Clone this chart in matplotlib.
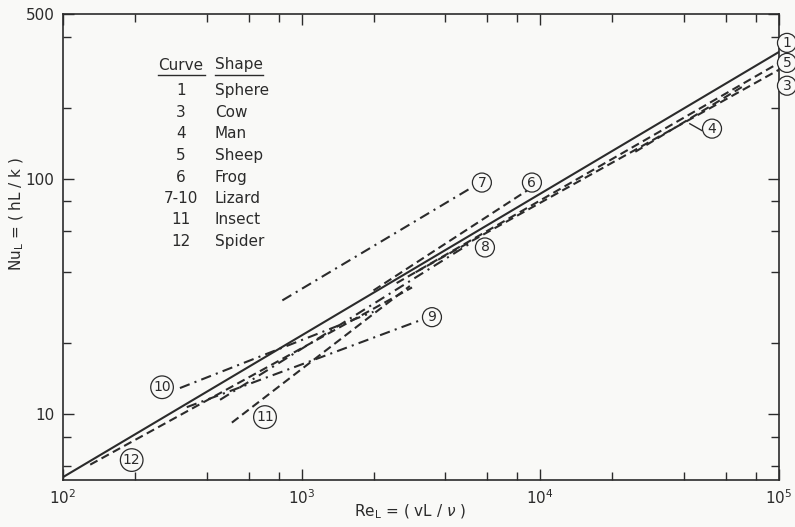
import numpy as np
import matplotlib.pyplot as plt

plt.rcParams['font.family'] = ['DejaVu Sans']

# curve end points (Re, Nu)
re_sphere = [100, 1e5];      nu_sphere = [5.4, 345]
re_cow = [3000, 1e5];        nu_cow = [40, 290]
re_man = [2.5e4, 7e4];       nu_man = [130, 245]
re_sheep = [2500, 1e5];      nu_sheep = [36, 310]
re_frog = [2000, 8800];      nu_frog = [33.5, 89]
re_liz7 = [830, 5070];       nu_liz7 = [30.4, 90.7]
re_liz8 = [455, 5070];       nu_liz8 = [11.5, 53]
re_liz9 = [330, 3130];       nu_liz9 = [10.7, 25]
re_liz10 = [309, 2000];      nu_liz10 = [12.9, 27.2]
re_insect = [510, 2840];     nu_insect = [9.2, 35]
re_spider = [130, 2900];     nu_spider = [6.1, 34.5]

# circled curve numbers (label, Re, Nu)
tag_names = ['1', '5', '3', '4', '6', '7', '8', '9', '10', '11', '12']
tag_re = [1.08e5, 1.08e5, 1.08e5, 5.24e4, 9220, 5690, 5860, 3515, 260, 702, 194]
tag_nu = [377, 310, 248, 163, 96.2, 96.2, 51.0, 25.8, 13.0, 9.71, 6.38]

table_curve = ['1', '3', '4', '5', '6', '7-10', '11', '12']
table_shape = ['Sphere', 'Cow', 'Man', 'Sheep', 'Frog', 'Lizard', 'Insect', 'Spider']

ink = '#2b2b2b'
dashed = (0, (4, 2.2))
dashdot = (0, (5, 2.5, 1, 2.5))

fig = plt.figure(figsize=(7.95, 5.27), dpi=100, facecolor='#f9f9f7')
ax = fig.add_axes([63/795, 1-480/527, (779-63)/795, (480-14)/527])
ax.set_facecolor('#f9f9f7')
ax.set_xscale('log')
ax.set_yscale('log')
ax.set_xlim(1e2, 1e5)
ax.set_ylim(5.25, 500)

lw = 1.5
ax.plot(re_sphere, nu_sphere, color=ink, lw=lw)
ax.plot(re_cow, nu_cow, color=ink, lw=lw, ls=dashed)
ax.plot(re_man, nu_man, color=ink, lw=lw, ls=dashed)
ax.plot(re_sheep, nu_sheep, color=ink, lw=lw, ls=dashed)
ax.plot(re_frog, nu_frog, color=ink, lw=lw, ls=dashed)
ax.plot(re_liz7, nu_liz7, color=ink, lw=lw, ls=dashdot)
ax.plot(re_liz8, nu_liz8, color=ink, lw=lw, ls=dashdot)
ax.plot(re_liz9, nu_liz9, color=ink, lw=lw, ls=dashdot)
ax.plot(re_liz10, nu_liz10, color=ink, lw=lw, ls=dashdot)
ax.plot(re_insect, nu_insect, color=ink, lw=lw, ls=dashed)
ax.plot(re_spider, nu_spider, color=ink, lw=lw, ls=dashed)

# leader line for curve 4
ax.plot([4.23e4, 4.75e4], [171, 160], color=ink, lw=1.0)

for name, x, y in zip(tag_names, tag_re, tag_nu):
    ax.text(x, y, name, ha='center', va='center', fontsize=10, color=ink,
            clip_on=False,
            bbox=dict(boxstyle='circle,pad=0.18', fc='#f9f9f7', ec=ink, lw=0.9))

# ticks
ax.set_xticks([1e2, 1e3, 1e4, 1e5])
ax.set_xticklabels(['$10^2$', '$10^3$', '$10^4$', '$10^5$'])
ax.set_xticks([m * d for d in (1e2, 1e3, 1e4) for m in (2, 4, 6, 8)], minor=True)
ax.set_yticks([10, 100, 500])
ax.set_yticklabels(['10', '100', '500'])
ax.set_yticks([6, 8, 20, 40, 60, 80, 200, 400], minor=True)
ax.yaxis.set_minor_formatter(plt.NullFormatter())
ax.xaxis.set_minor_formatter(plt.NullFormatter())
ax.tick_params(which='both', direction='in', top=True, right=True,
               color=ink, labelcolor=ink, labelsize=11, width=1.0)
ax.tick_params(which='major', length=8, pad=6)
ax.tick_params(which='minor', length=6)
for s in ax.spines.values():
    s.set_color(ink)
    s.set_linewidth(1.2)

ax.set_xlabel(r'Re$_\mathregular{L}$ = ( vL / $\nu$ )', fontsize=11, color=ink,
              va='center')
ax.xaxis.set_label_coords(0.485, -0.068)
ax.set_ylabel(r'Nu$_\mathregular{L}$ = ( hL / k )', fontsize=11, color=ink)
ax.yaxis.set_label_coords(-0.052, 0.57)

# table of curves
def fx(px):
    return px / 795

def fy(py):
    return 1 - py / 527

fig.text(fx(181), fy(65), 'Curve', ha='center', va='center', fontsize=11, color=ink)
fig.text(fx(215), fy(65), 'Shape', ha='left', va='center', fontsize=11, color=ink)
fig.add_artist(plt.Line2D([fx(158), fx(205)], [fy(75), fy(75)], color=ink, lw=1.0))
fig.add_artist(plt.Line2D([fx(215), fx(263)], [fy(75), fy(75)], color=ink, lw=1.0))
for i, (c, s) in enumerate(zip(table_curve, table_shape)):
    y = 91 + i * 21.5
    fig.text(fx(181), fy(y), c, ha='center', va='center', fontsize=11, color=ink)
    fig.text(fx(215), fy(y), s, ha='left', va='center', fontsize=11, color=ink)

fig.savefig('out.png', dpi=100, facecolor=fig.get_facecolor())
